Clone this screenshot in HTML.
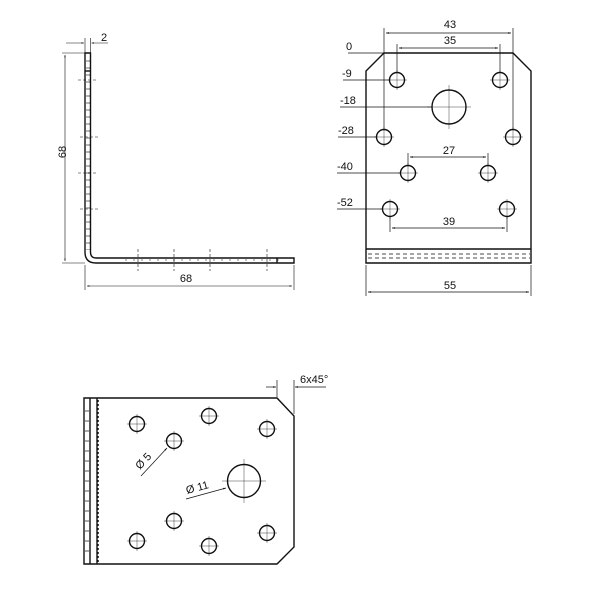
<!DOCTYPE html>
<html><head><style>body{margin:0;background:#fff}svg{display:block}text{font-family:"Liberation Sans",sans-serif;font-size:11px;fill:#111}</style></head><body>
<svg width="600" height="600" viewBox="0 0 600 600" xmlns="http://www.w3.org/2000/svg">
<defs><marker id="a" viewBox="0 0 10 10" refX="10" refY="5" markerWidth="6" markerHeight="4" orient="auto-start-reverse"><path d="M0,2L10,5L0,8z" fill="#111"/></marker></defs>
<g fill="none" stroke="#111" stroke-width="1.4">
<path d="M85,53H90.5V252Q90.5,258 96,258H294V263H96Q85,263 85,252Z"/>
<line x1="85" y1="71" x2="90.5" y2="71"/><line x1="277" y1="258" x2="277" y2="263"/>
</g>
<g stroke="#111" stroke-width="0.6" fill="none">
<line x1="62" y1="53" x2="85" y2="53"/><line x1="62" y1="263" x2="85" y2="263"/>
<line x1="65" y1="55" x2="65" y2="261" marker-start="url(#a)" marker-end="url(#a)"/>
<line x1="85" y1="265" x2="85" y2="290"/><line x1="294" y1="265" x2="294" y2="290"/>
<line x1="87" y1="286" x2="292" y2="286" marker-start="url(#a)" marker-end="url(#a)"/>
<line x1="85" y1="38" x2="85" y2="53"/><line x1="90.5" y1="38" x2="90.5" y2="53"/>
<line x1="66" y1="43" x2="84" y2="43" marker-end="url(#a)"/><line x1="108" y1="43" x2="91.5" y2="43" marker-end="url(#a)"/>
<g stroke-dasharray="3,2"><line x1="78" y1="80" x2="98" y2="80"/><line x1="80" y1="137" x2="98" y2="137"/><line x1="78" y1="173" x2="96" y2="173"/><line x1="80" y1="209" x2="98" y2="209"/>
<line x1="138" y1="249" x2="138" y2="271"/><line x1="174" y1="249" x2="174" y2="271"/><line x1="210" y1="249" x2="210" y2="271"/><line x1="267" y1="249" x2="267" y2="271"/>
<line x1="87" y1="60" x2="87" y2="250" stroke-dasharray="2,5"/><line x1="89" y1="60" x2="89" y2="250" stroke-dasharray="2,5"/>
<line x1="125" y1="260" x2="280" y2="260" stroke-dasharray="2,6"/></g>
</g>
<text x="101" y="41">2</text>
<text x="62" y="156" transform="rotate(-90 62 152)" text-anchor="middle">68</text>
<text x="186" y="282" text-anchor="middle">68</text>
<g fill="none" stroke="#111" stroke-width="1.4">
<path d="M384,53H513L531,71V263H366V71Z"/>
<line x1="366" y1="249" x2="531" y2="249"/>
<circle cx="397" cy="80" r="7.5"/><circle cx="500" cy="80" r="7.5"/>
<circle cx="449" cy="107" r="17"/>
<circle cx="384" cy="137" r="7.5"/><circle cx="513" cy="137" r="7.5"/>
<circle cx="408" cy="173" r="7.5"/><circle cx="488" cy="173" r="7.5"/>
<circle cx="390" cy="209" r="7.5"/><circle cx="507" cy="209" r="7.5"/>
</g>
<g stroke="#111" stroke-width="0.7" fill="none">
<line x1="368" y1="254" x2="530" y2="254" stroke-dasharray="4,3"/><line x1="368" y1="258" x2="530" y2="258" stroke-dasharray="4,3"/>
<line x1="384" y1="28" x2="384" y2="130"/><line x1="513" y1="28" x2="513" y2="130"/>
<line x1="386" y1="33" x2="511" y2="33" marker-start="url(#a)" marker-end="url(#a)"/>
<line x1="397" y1="44" x2="397" y2="72"/><line x1="500" y1="44" x2="500" y2="72"/>
<line x1="399" y1="48" x2="498" y2="48" marker-start="url(#a)" marker-end="url(#a)"/>
<line x1="408" y1="153" x2="408" y2="165"/><line x1="488" y1="153" x2="488" y2="165"/>
<line x1="410" y1="157" x2="486" y2="157" marker-start="url(#a)" marker-end="url(#a)"/>
<line x1="390" y1="217" x2="390" y2="232"/><line x1="507" y1="217" x2="507" y2="232"/>
<line x1="392" y1="228" x2="505" y2="228" marker-start="url(#a)" marker-end="url(#a)"/>
<line x1="366" y1="265" x2="366" y2="296"/><line x1="531" y1="265" x2="531" y2="296"/>
<line x1="368" y1="292" x2="529" y2="292" marker-start="url(#a)" marker-end="url(#a)"/>
<line x1="348" y1="53" x2="384" y2="53"/><line x1="343" y1="80" x2="389" y2="80"/>
<line x1="340" y1="107" x2="432" y2="107"/><line x1="338" y1="137" x2="376" y2="137"/>
<line x1="337" y1="173" x2="400" y2="173"/><line x1="337" y1="209" x2="382" y2="209"/>
</g>
<g stroke="#111" stroke-width="0.4">
<path d="M387,80h20M397,70v20M490,80h20M500,70v20M427,107h44M449,85v44M374,137h20M384,127v20M503,137h20M513,127v20M398,173h20M408,163v20M478,173h20M488,163v20M380,209h20M390,199v20M497,209h20M507,199v20"/>
</g>
<text x="450" y="28" text-anchor="middle">43</text><text x="450" y="44" text-anchor="middle">35</text>
<text x="449" y="154" text-anchor="middle">27</text><text x="449" y="225" text-anchor="middle">39</text>
<text x="450" y="289" text-anchor="middle">55</text>
<text x="346" y="50">0</text><text x="342" y="77">-9</text><text x="340" y="104">-18</text>
<text x="338" y="134">-28</text><text x="337" y="170">-40</text><text x="337" y="206">-52</text>
<g fill="none" stroke="#111" stroke-width="1.4">
<path d="M84,398H277L294,416V547L277,564H84Z"/>
<line x1="90" y1="398" x2="90" y2="564"/><line x1="97" y1="398" x2="97" y2="564"/>
<circle cx="137" cy="424" r="7.5"/><circle cx="209" cy="416" r="7.5"/><circle cx="267" cy="429" r="7.5"/>
<circle cx="174" cy="441" r="7.5"/><circle cx="244" cy="481" r="16.5"/>
<circle cx="174" cy="521" r="7.5"/><circle cx="137" cy="541" r="7.5"/><circle cx="209" cy="546" r="7.5"/><circle cx="267" cy="533" r="7.5"/>
</g>
<g stroke="#111" stroke-width="0.4">
<path d="M127,424h20M137,414v20M199,416h20M209,406v20M257,429h20M267,419v20M164,441h20M174,431v20M222,481h44M244,459v44M164,521h20M174,511v20M127,541h20M137,531v20M199,546h20M209,536v20M257,533h20M267,523v20"/>
</g>
<g stroke="#111" stroke-width="0.7" fill="none">
<line x1="98" y1="400" x2="98" y2="562" stroke-dasharray="2,2" stroke-width="1.5"/>
<line x1="86" y1="410" x2="86" y2="555" stroke-dasharray="2,8"/><line x1="88" y1="410" x2="88" y2="555" stroke-dasharray="2,8"/>
<line x1="277" y1="380" x2="277" y2="397"/><line x1="294" y1="380" x2="294" y2="414"/>
<line x1="266" y1="387" x2="276" y2="387" marker-end="url(#a)"/><line x1="326" y1="387" x2="295" y2="387" marker-end="url(#a)"/>
<line x1="141" y1="476" x2="167" y2="448" marker-end="url(#a)"/>
<line x1="186" y1="499" x2="226" y2="488" marker-end="url(#a)"/>
</g>
<text x="300" y="383">6x45°</text>
<text x="140" y="470" transform="rotate(-47 140 470)">Ø 5</text>
<text x="187" y="494" transform="rotate(-15 187 494)">Ø 11</text>
</svg>
</body></html>
